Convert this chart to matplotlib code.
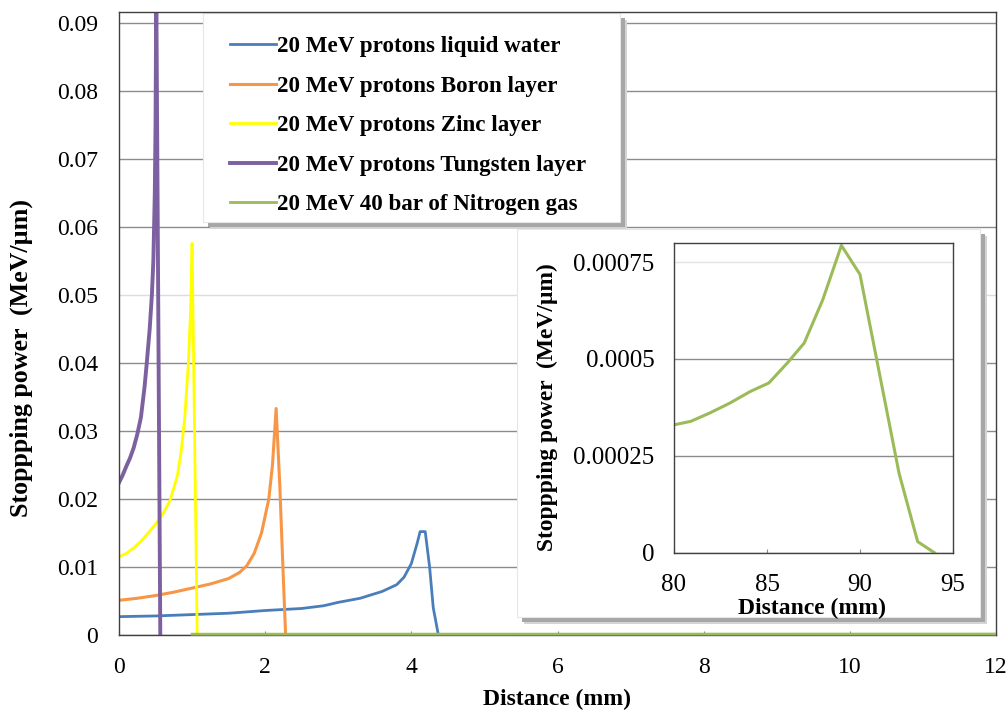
import matplotlib
matplotlib.use("Agg")
import matplotlib.pyplot as plt
from matplotlib.patches import Rectangle

plt.rcParams["font.family"] = ["Liberation Serif", "DejaVu Serif"]

# ========= data (distance in mm, stopping power in MeV/um) =========
water_x = [0.0, 0.5, 1.0, 1.5, 2.0, 2.5, 2.8, 3.0, 3.3, 3.6, 3.8, 3.9, 4.0, 4.08, 4.12, 4.19, 4.25, 4.30, 4.37]
water_y = [0.0027, 0.0028, 0.0030, 0.0032, 0.0036, 0.0039, 0.0043, 0.0048, 0.0054, 0.0064, 0.0074, 0.0085,
           0.0105, 0.0135, 0.0152, 0.0152, 0.0100, 0.0040, 0.0]

boron_x = [0.0, 0.25, 0.5, 0.75, 1.0, 1.25, 1.5, 1.65, 1.75, 1.85, 1.95, 2.05, 2.10, 2.15, 2.20, 2.25, 2.28]
boron_y = [0.0051, 0.0054, 0.0058, 0.0063, 0.0069, 0.0075, 0.0083, 0.0092, 0.0102, 0.0120, 0.0150, 0.0200,
           0.0250, 0.0333, 0.0220, 0.0080, 0.0]

zinc_x = [0.0, 0.1, 0.2, 0.3, 0.4, 0.5, 0.6, 0.7, 0.8, 0.85, 0.9, 0.95, 0.98, 1.0, 1.07]
zinc_y = [0.0115, 0.0120, 0.0128, 0.0138, 0.0150, 0.0163, 0.0178, 0.0198, 0.0235, 0.0270, 0.0320, 0.0400,
          0.0480, 0.0576, 0.0]

tungsten_x = [0.0, 0.05, 0.1, 0.15, 0.2, 0.25, 0.3, 0.35, 0.38, 0.42, 0.45, 0.47, 0.49, 0.50, 0.51, 0.565]
tungsten_y = [0.0224, 0.0235, 0.0248, 0.0260, 0.0275, 0.0295, 0.0320, 0.0365, 0.0400, 0.0450, 0.0500,
              0.0550, 0.0650, 0.0750, 0.0950, 0.0]

nitrogen_x = [1.0, 12.0, 80.0, 80.9, 81.9, 83.0, 84.1, 85.1, 86.1, 87.0, 88.0, 89.0, 90.0, 90.9, 92.1, 93.1, 94.0]
nitrogen_y = [0.00012, 0.00014, 0.00033, 0.000339, 0.00036, 0.000386, 0.000416, 0.000438, 0.00049, 0.000541,
              0.000653, 0.000793, 0.000718, 0.000498, 0.000205, 0.0000285, 0.0]

labels = [
    "20 MeV protons liquid water",
    "20 MeV protons Boron layer",
    "20 MeV protons Zinc layer",
    "20 MeV protons Tungsten layer",
    "20 MeV 40 bar of Nitrogen gas",
]
colors = ["#4a7ebb", "#f79646", "#ffff00", "#7d60a0", "#9bbb59"]
widths = [2.0, 2.2, 2.0, 2.8, 2.0]

main_yticks = [0, 0.01, 0.02, 0.03, 0.04, 0.05, 0.06, 0.07, 0.08, 0.09]
main_yticklabels = ["0", "0.01", "0.02", "0.03", "0.04", "0.05", "0.06", "0.07", "0.08", "0.09"]
main_xticks = [0, 2, 4, 6, 8, 10, 12]

inset_yticks = [0, 0.00025, 0.0005, 0.00075]
inset_yticklabels = ["0", "0.00025", "0.0005", "0.00075"]
inset_xticks = [80, 85, 90, 95]

ylabel = "Stoppping power  (MeV/\u00b5m)"
xlabel = "Distance (mm)"

W, H = 1008, 714  # canvas size in px


def panel(owner, left, top, right, bottom, zorder):
    """white box with a grey drop shadow, edges in canvas pixels"""
    tf = fig.transFigure
    sx, sy = 5, 5
    shadow = Rectangle(((left + sx) / W, 1 - (bottom + sy) / H), (right - left) / W, (bottom - top) / H,
                       transform=tf, facecolor="#a6a6a6", edgecolor="none", zorder=zorder - 0.02,
                       clip_on=False)
    soft = Rectangle(((left + sx + 2) / W, 1 - (bottom + sy + 2) / H), (right - left) / W, (bottom - top) / H,
                     transform=tf, facecolor="#d4d4d4", edgecolor="none", zorder=zorder - 0.03,
                     clip_on=False)
    box = Rectangle((left / W, 1 - bottom / H), (right - left) / W, (bottom - top) / H,
                    transform=tf, facecolor="white", edgecolor="#e6e6e6", lw=0.8, zorder=zorder,
                    clip_on=False)
    for p in (soft, shadow, box):
        owner.add_artist(p)


# ========= main chart =========
fig = plt.figure(figsize=(W / 100, H / 100), dpi=100)
ax = fig.add_axes([119 / W, 1 - 635 / H, 877 / W, 623 / H])

series = [(water_x, water_y), (boron_x, boron_y), (zinc_x, zinc_y), (tungsten_x, tungsten_y)]
for (xs, ys), lab, c, w in zip(series, labels[:4], colors[:4], widths[:4]):
    ax.plot(xs, ys, color=c, lw=w, label=lab, solid_joinstyle="round")
n2_line, = ax.plot(nitrogen_x, nitrogen_y, color=colors[4], lw=widths[4], label=labels[4], zorder=3)
# let the gas curve sit on top of the x axis instead of being cut in half
n2_line.set_clip_path(Rectangle((0, -0.01), 1, 1.02, transform=ax.transAxes))

ax.set_xlim(0, 12)
ax.set_ylim(0, 0.0916)
ax.set_xticks(main_xticks)
ax.set_yticks(main_yticks)
ax.set_yticklabels(main_yticklabels)
ax.tick_params(axis="y", length=0, pad=15, labelsize=17)
ax.tick_params(axis="x", direction="in", length=3, color="#888888", pad=16, labelsize=17)
ax.set_axisbelow(True)
ax.yaxis.grid(True, color="#8c8c8c", lw=1.0)
ax.get_ygridlines()[5].set_color("#dddddd")
for sp in ax.spines.values():
    sp.set_color("#404040")
    sp.set_linewidth(1.0)

ax.set_xlabel(xlabel, fontsize=17, fontweight="bold")
ax.xaxis.set_label_coords(0.499, -0.087)
ax.set_ylabel(ylabel, fontsize=18.7, fontweight="bold")
ax.yaxis.set_label_coords(-0.111, 0.445)
ax.yaxis.label.set_va("center")

# legend panel drawn separately so its size can be set freely
panel(ax, 203, 13, 620, 222, zorder=2.2)
leg = ax.legend(
    loc="upper left",
    bbox_to_anchor=(230 / W, 1 - 36 / H),
    bbox_transform=fig.transFigure,
    borderaxespad=0,
    borderpad=0,
    frameon=False,
    prop={"size": 16.6, "weight": "bold"},
    handlelength=2.0,
    handletextpad=0.06,
    labelspacing=0.8,
)

# ========= inset (Nitrogen Bragg peak) =========
panel(fig, 517, 229, 980, 617, zorder=3)

axi = fig.add_axes([674 / W, 1 - 552.7 / H, 279 / W, 310 / H], zorder=4)
axi.plot(nitrogen_x, nitrogen_y, color=colors[4], lw=2.2)
axi.set_xlim(80, 95)
axi.set_ylim(0, 0.0008)
axi.set_xticks(inset_xticks)
axi.set_yticks(inset_yticks)
axi.set_yticklabels(inset_yticklabels)
axi.tick_params(axis="y", length=0, pad=14, labelsize=18)
axi.tick_params(axis="x", direction="in", length=3, color="#888888", pad=15, labelsize=18)
axi.set_axisbelow(True)
axi.yaxis.grid(True, color="#8c8c8c", lw=1.0)
axi.get_ygridlines()[3].set_color("#e3e3e3")
for sp in axi.spines.values():
    sp.set_color("#404040")
    sp.set_linewidth(1.0)

axi.set_xlabel(xlabel, fontsize=17, fontweight="bold")
axi.xaxis.set_label_coords(0.496, -0.145)
axi.set_ylabel(ylabel, fontsize=16.9, fontweight="bold")
axi.yaxis.set_label_coords(-0.455, 0.468)
axi.yaxis.label.set_va("center")

fig.savefig("out.png", dpi=100)
